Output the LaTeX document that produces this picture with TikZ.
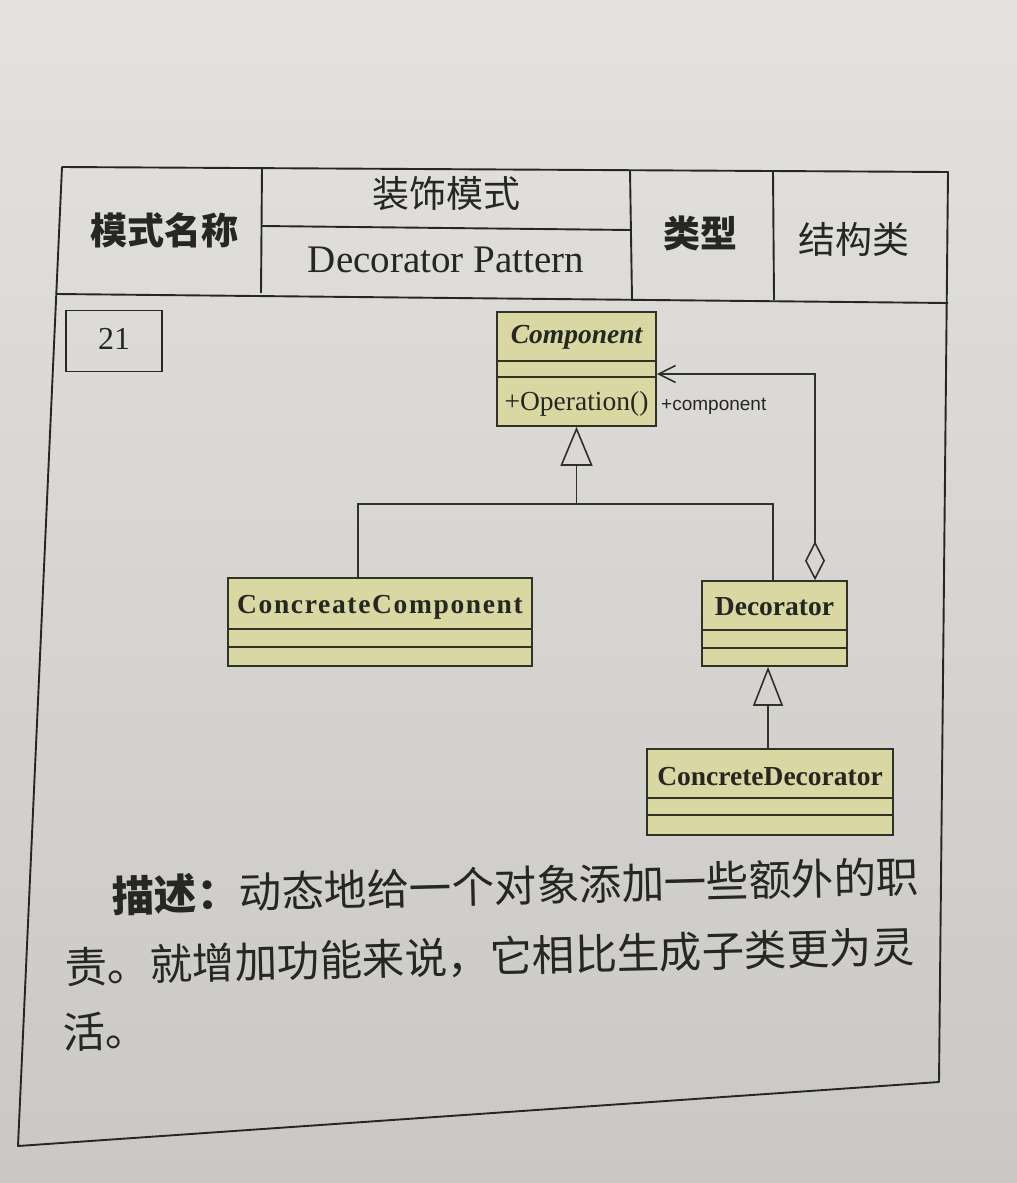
\documentclass[tikz,border=0pt]{standalone}
\usepackage{fontspec}
\setmainfont{Liberation Serif}
\newfontfamily\cjk{Noto Sans CJK SC}
\newfontfamily\sansf{Liberation Sans}
\usetikzlibrary{arrows.meta,calc}
\definecolor{paperT}{RGB}{228,226,223}
\definecolor{paperB}{RGB}{202,200,197}
\definecolor{boxfill}{RGB}{217,215,162}
\definecolor{ink}{RGB}{38,38,34}
\definecolor{uline}{RGB}{48,50,38}
\begin{document}
\begin{tikzpicture}[x=1pt,y=-1pt,
  frame/.style={draw=ink,line width=1.9pt,line join=round},
  umlbox/.style={draw=uline,fill=boxfill,line width=1.6pt,rectangle,inner sep=0pt},
  divline/.style={draw=uline,line width=1.5pt},
  umlline/.style={draw=uline,line width=1.6pt},
  umltitle/.style={font=\fontsize{27.5}{30}\selectfont\bfseries,text=ink,inner sep=0pt,anchor=base},
  umltext/.style={font=\fontsize{27.5}{30}\selectfont,text=ink,inner sep=0pt,anchor=base},
  hdrb/.style={font=\cjk\bfseries\fontsize{37}{40}\selectfont,text=ink,inner sep=0pt},
  hdr/.style={font=\cjk\fontsize{37}{40}\selectfont,text=ink,inner sep=0pt},
  desc/.style={font=\cjk\fontsize{42.5}{45}\selectfont,text=ink,inner sep=0pt,anchor=base west,rotate=1.4}
]
\useasboundingbox (0,0) rectangle (1017,1183);
\shade[top color=paperT,bottom color=paperB] (0,0) rectangle (1017,1183);

% outer frame and header grid
\draw[frame] (62,167) -- (948,172) -- (939,1082) -- (18,1146) -- cycle;
\draw[frame] (57,294) -- (948,303);
\draw[frame] (262,167) -- (261,293);
\draw[frame] (630,170) -- (632,299);
\draw[frame] (773,171) -- (774,300);
\draw[frame] (262,226) -- (631,230);

% header texts
\node[hdrb] (hname) at (164,230) {模式名称};
\node[hdr] (hcn) at (446,194) {装饰模式};
\node[font=\fontsize{39}{42}\selectfont,text=ink,inner sep=0pt,anchor=base] (hen) at (446,272) {Decorator Pattern};
\node[hdrb] (htype) at (700,233) {类型};
\node[hdr] (hcat) at (854,239) {结构类};

% number box
\node[draw=ink,line width=1.6pt,minimum width=96pt,minimum height=61pt,inner sep=0pt] (numbox) at (114,341) {};
\node[font=\fontsize{32}{34}\selectfont,text=ink,inner sep=0pt,anchor=base] (num) at (114,349) {21};

% UML classes
\node[umlbox,minimum width=159pt,minimum height=114pt] (comp) at (576.5,369) {};
\draw[divline] (comp.west |- 0,361) -- (comp.east |- 0,361);
\draw[divline] (comp.west |- 0,377) -- (comp.east |- 0,377);
\node[umltitle,font=\fontsize{27.5}{30}\selectfont\bfseries\itshape] (compt) at (comp.north |- 0,343) {Component};
\node[umltext] (compop) at (comp.north |- 0,410) {+Operation()};

\node[umlbox,minimum width=304pt,minimum height=88pt] (cc) at (380,622) {};
\draw[divline] (cc.west |- 0,629) -- (cc.east |- 0,629);
\draw[divline] (cc.west |- 0,647) -- (cc.east |- 0,647);
\node[umltitle,font=\fontsize{27.5}{30}\selectfont\bfseries\addfontfeature{LetterSpace=6}] (cct) at (cc.north |- 0,613) {ConcreateComponent};

\node[umlbox,minimum width=145pt,minimum height=85pt] (dec) at (774.5,623.5) {};
\draw[divline] (dec.west |- 0,630) -- (dec.east |- 0,630);
\draw[divline] (dec.west |- 0,648) -- (dec.east |- 0,648);
\node[umltitle] (dect) at (dec.north |- 0,615) {Decorator};

\node[umlbox,minimum width=246pt,minimum height=86pt] (cd) at (770,792) {};
\draw[divline] (cd.west |- 0,798) -- (cd.east |- 0,798);
\draw[divline] (cd.west |- 0,815) -- (cd.east |- 0,815);
\node[umltitle] (cdt) at (cd.north |- 0,785) {ConcreteDecorator};

% generalization tree
\coordinate (tj) at (comp.south |- 0,504);
\draw[umlline] ([xshift=-22pt]cc.north) |- (tj) -| ([xshift=-1.5pt]dec.north);
\draw[umlline,-{Triangle[open,length=39pt,width=32pt]}] (tj) -- (comp.south);
\draw[umlline,-{Triangle[open,length=39pt,width=30pt]}] ([xshift=-2pt]cd.north) -- ([xshift=-2pt]cd.north |- dec.south);

% aggregation
\draw[umlline,{Diamond[open,length=39pt,width=20pt]}-{Straight Barb[length=17pt,width=17pt]}]
  ([xshift=40.5pt]dec.north) |- ([yshift=-5pt]comp.east);
\node[font=\sansf\fontsize{19}{21}\selectfont,text=ink,inner sep=0pt,anchor=base west] (rolelbl) at (661,410) {+component};

% description
\node[desc] (desc1) at (112,912) {{\bfseries 描述：}动态地给一个对象添加一些额外的职};
\node[desc] (desc2) at (65,983) {责。就增加功能来说，它相比生成子类更为灵};
\node[desc] (desc3) at (63,1048) {活。};
\end{tikzpicture}
\end{document}
